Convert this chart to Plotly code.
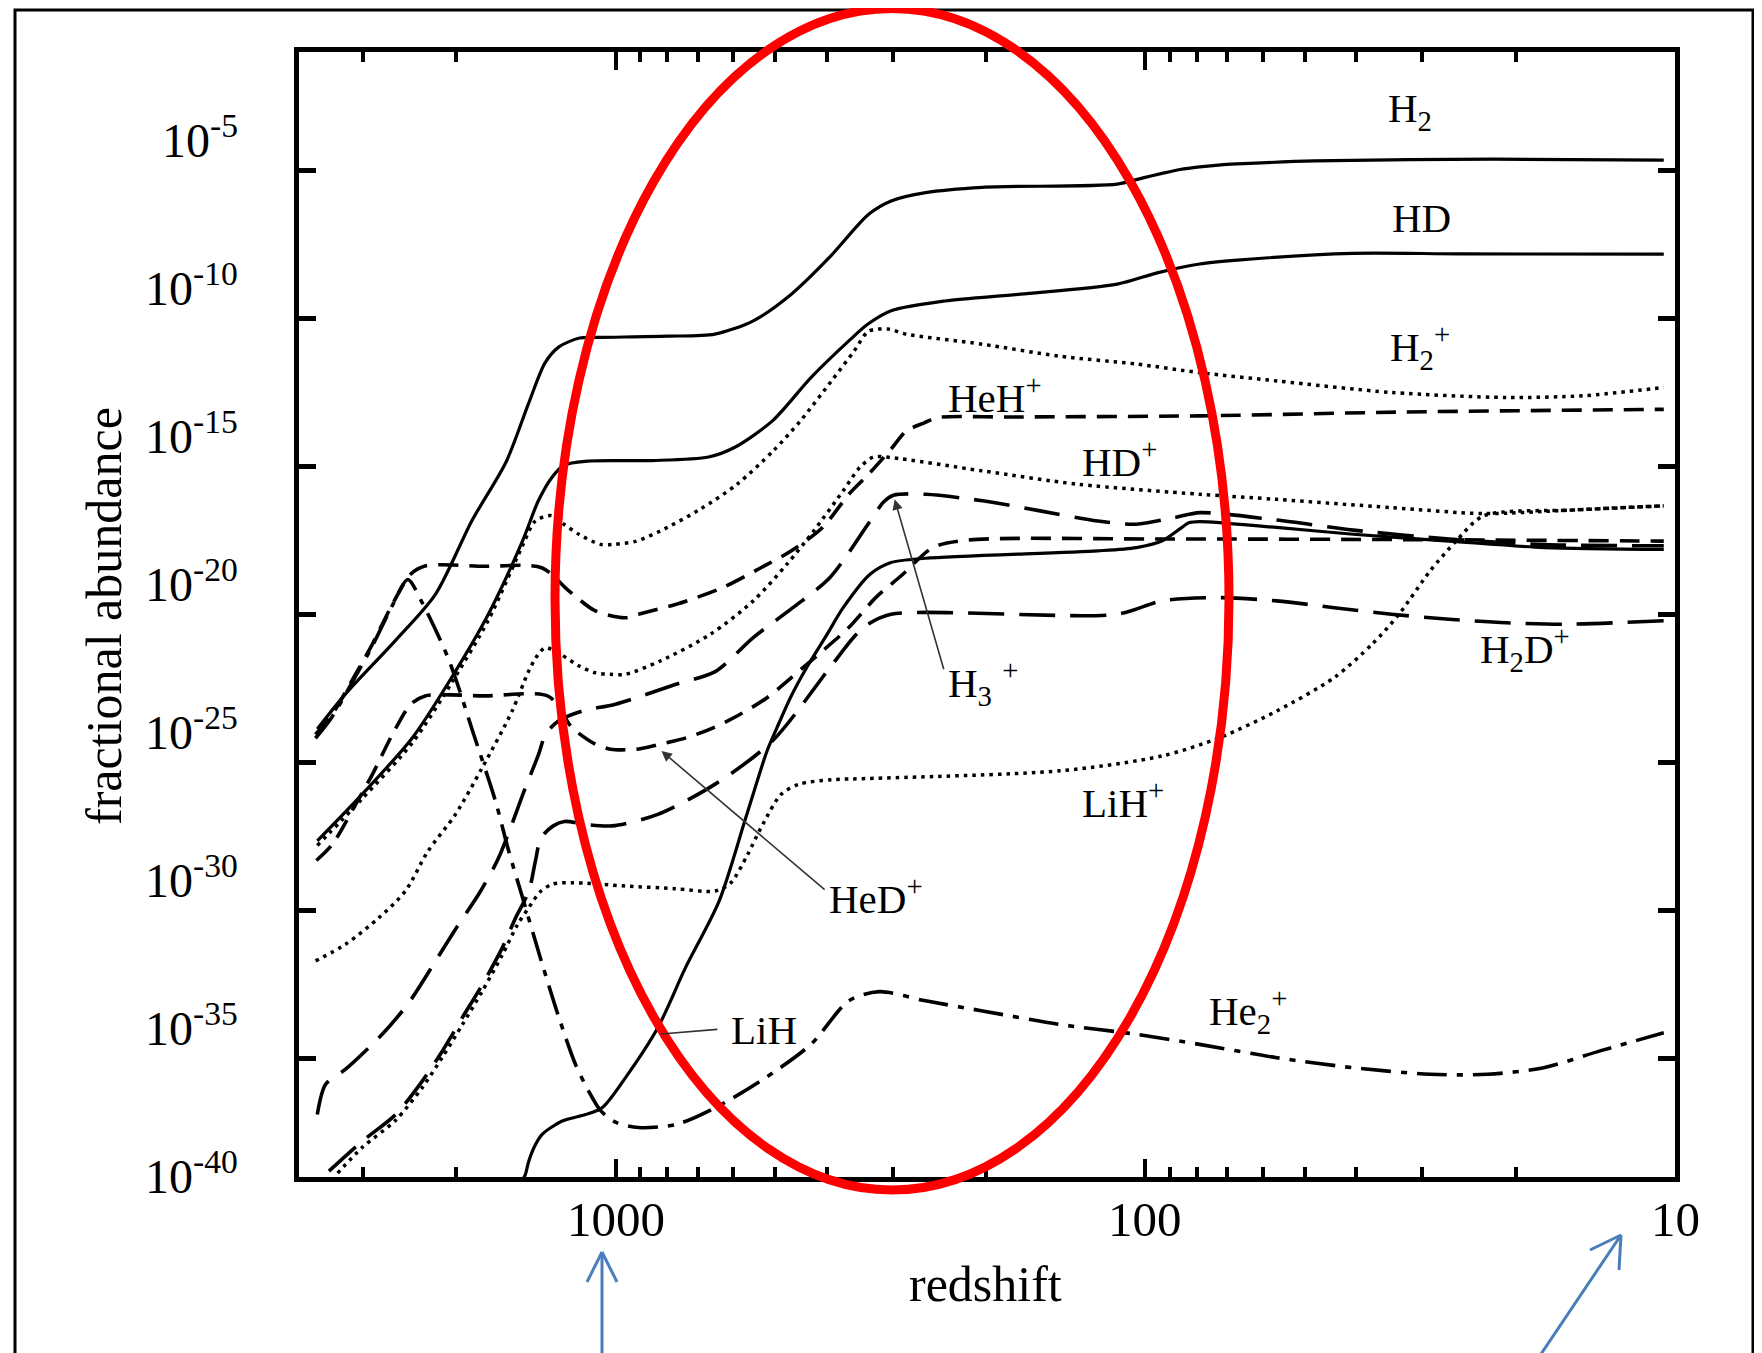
import numpy as np
import plotly.graph_objects as go

# ------------------------------------------------------------------
# Data: redshift z and log10(fractional abundance)
# ------------------------------------------------------------------
H2_Z = [3660, 3240, 2610, 2190, 1870, 1610, 1460, 1360, 1280, 1170, 1070, 800, 650, 550, 466, 395,
        333, 302, 260, 203, 113, 101, 93, 86, 79, 72, 67, 48, 22, 10.5]
H2_LOG = [-24.87, -23.69, -21.89, -20.32, -17.84, -15.84, -13.86, -12.50, -11.96, -11.66, -11.64, -11.60,
          -11.53, -11.08, -10.18, -8.94, -7.48, -7.03, -6.75, -6.57, -6.46, -6.25, -6.10, -5.97, -5.88,
          -5.81, -5.78, -5.68, -5.62, -5.65]

HD_Z = [3660, 3010, 2420, 2040, 1740, 1500, 1400, 1320, 1250, 1130, 853, 668, 597, 506, 428, 363, 334,
        302, 239, 172, 113, 95, 79, 67, 40.6, 25.4, 10.5]
HD_LOG = [-28.65, -27.07, -25.16, -23.12, -20.99, -18.52, -17.16, -16.37, -15.95, -15.82, -15.80, -15.68,
          -15.36, -14.46, -13.00, -11.76, -11.19, -10.74, -10.41, -10.18, -9.84, -9.46, -9.16, -9.03,
          -8.80, -8.82, -8.83]

H2P_Z = [3660, 3010, 2420, 2040, 1740, 1500, 1420, 1324, 1253, 1172, 1069, 1009, 918, 824, 692, 590,
         504, 448, 391, 355, 333, 306, 283, 203, 146, 104, 79, 56.5, 34.3, 20.8, 14.9, 10.5]
H2P_LOG = [-28.80, -27.22, -25.33, -23.30, -21.19, -18.68, -17.85, -17.66, -17.95, -18.30, -18.63, -18.63,
           -18.53, -18.18, -17.44, -16.60, -15.47, -14.46, -13.10, -12.11, -11.43, -11.36, -11.53, -11.87,
           -12.27, -12.54, -12.83, -13.11, -13.50, -13.67, -13.61, -13.33]

HEHP_Z = [3690, 3430, 3100, 2880, 2640, 2440, 2290, 1770, 1380, 1226, 1092, 960, 906, 767, 628, 532,
          466, 407, 363, 333, 302, 283, 261, 247, 179, 79, 32.4, 10.5]
HEHP_LOG = [-25.05, -24.37, -23.02, -22.00, -20.65, -19.64, -19.36, -19.37, -19.42, -20.20, -20.88, -21.11,
            -20.99, -20.65, -20.09, -19.42, -18.85, -18.06, -16.94, -16.26, -15.41, -14.81, -14.52, -14.35,
            -14.33, -14.29, -14.16, -14.07]

HE2P_Z = [3690, 3430, 3100, 2880, 2640, 2470, 2320, 2080, 1977, 1866, 1687, 1592, 1503, 1377, 1281,
          1191, 1125, 1069, 1001, 906, 767, 649, 532, 428, 363, 318, 260, 203, 146, 104, 79, 56.5, 40.5,
          29.0, 22.6, 17.7, 13.85, 10.5]
HE2P_LOG = [-25.18, -24.45, -23.09, -22.06, -20.69, -19.82, -20.60, -22.40, -23.50, -24.90, -27.30, -29.00,
            -30.50, -32.80, -34.60, -36.20, -37.10, -37.75, -38.15, -38.33, -38.22, -37.66, -36.75, -35.52,
            -34.05, -33.74, -34.05, -34.39, -34.84, -35.18, -35.52, -35.97, -36.31, -36.53, -36.53, -36.31,
            -35.74, -35.13]

HEDP_Z = [3675, 3430, 3100, 2880, 2640, 2440, 2290, 1770, 1338, 1209, 1092, 1023, 911, 824, 734, 653,
          582, 518, 466, 407, 363, 323, 287, 252, 218, 93, 32.4, 10.5]
HEDP_LOG = [-29.31, -28.77, -27.42, -26.40, -25.05, -24.04, -23.75, -23.75, -23.77, -24.82, -25.38, -25.55,
            -25.55, -25.38, -25.16, -24.82, -24.37, -23.81, -23.13, -22.23, -21.44, -20.43, -19.64, -18.74,
            -18.49, -18.45, -18.47, -18.52]

H3P_Z = [3660, 3530, 3236, 2760, 2458, 2188, 2007, 1799, 1663, 1481, 1398, 1357, 1281, 1157, 1001, 767,
         649, 550, 463, 394, 334, 312, 299, 260, 203, 158, 123, 104, 88.3, 78.8, 56.5, 40.5, 26.7, 17.7, 10.5]
H3P_LOG = [-37.89, -36.87, -36.36, -35.18, -34.11, -32.70, -31.63, -30.34, -29.21, -26.85, -25.72, -25.05,
           -24.59, -24.26, -24.03, -23.35, -22.93, -21.78, -20.77, -19.75, -17.95, -17.20, -16.97, -16.94,
           -17.16, -17.50, -17.84, -17.95, -17.73, -17.56, -17.81, -18.15, -18.45, -18.64, -18.68]

H2DP_Z = [3479, 3010, 2603, 2319, 2126, 1949, 1786, 1638, 1546, 1459, 1418, 1384, 1312, 1249, 1141, 1016,
          833, 649, 506, 394, 355, 334, 302, 113, 93.1, 72.4, 56.5, 44.0, 34.3, 26.7, 20.8, 16.2, 10.5]
H2DP_LOG = [-39.80, -38.79, -37.89, -36.76, -35.75, -34.62, -33.50, -32.26, -31.25, -30.34, -29.33, -28.55,
            -28.14, -27.99, -28.09, -28.14, -27.75, -26.73, -25.27, -22.79, -21.76, -21.33, -20.99, -20.99,
            -20.54, -20.43, -20.54, -20.77, -20.99, -21.16, -21.28, -21.33, -21.21]

LIHP_Z = [3350, 3010, 2603, 2319, 2126, 1949, 1786, 1638, 1533, 1459, 1391, 1318, 1208, 959, 774, 649,
          607, 564, 532, 487, 450, 391, 334, 145, 93.1, 72.4, 56.5, 44.0, 37.3, 33.2, 29.0, 25.9, 23.0,
          15.6, 10.5]
LIHP_LOG = [-39.87, -39.00, -38.08, -36.98, -35.96, -34.86, -33.72, -32.50, -31.48, -30.90, -30.38, -30.11,
            -30.06, -30.17, -30.26, -30.34, -30.07, -29.12, -28.21, -27.07, -26.73, -26.58, -26.54, -26.28,
            -25.78, -25.16, -24.26, -23.13, -22.00, -20.99, -19.53, -18.52, -17.67, -17.47, -17.33]

HDP_Z = [3687, 3236, 2799, 2495, 2265, 2007, 1786, 1569, 1459, 1404, 1358, 1272, 1172, 1092, 1023, 959,
         824, 663, 550, 475, 423, 372, 346, 326, 302, 203, 134, 78.8, 56.5, 34.3, 23.0, 15.6, 10.5]
HDP_LOG = [-32.70, -32.14, -31.24, -30.34, -29.01, -27.75, -26.17, -24.26, -22.90, -22.37, -22.12, -22.34,
           -22.74, -22.97, -23.02, -23.02, -22.57, -21.67, -20.54, -19.30, -18.18, -16.82, -16.03, -15.68,
           -15.70, -16.15, -16.60, -16.94, -17.11, -17.39, -17.59, -17.47, -17.33]

LIH_Z = [1500, 1481, 1459, 1419, 1377, 1262, 1140, 1061, 959, 833, 738, 638, 568, 518, 496, 468, 436,
         399, 372, 331, 303, 260, 123, 104, 93.1, 86.1, 82.8, 78.9, 56.5, 40.5, 26.7, 17.7, 10.5]
LIH_LOG = [-40.10, -39.91, -39.46, -38.92, -38.56, -38.11, -37.89, -37.66, -36.65, -34.96, -32.92, -30.68,
           -27.86, -25.61, -24.82, -23.81, -22.79, -21.67, -20.77, -19.64, -19.25, -19.10, -18.85, -18.74,
           -18.52, -18.11, -17.90, -17.86, -18.06, -18.29, -18.52, -18.74, -18.80]

X_MAJOR = [1000, 100, 10]
X_MAJOR_TEXT = ["1000", "100", "10"]
X_MINOR = [3000, 2000, 900, 800, 700, 600, 500, 400, 300, 200, 90, 80, 70, 60, 50, 40, 30, 20]
Y_TICK_EXP = [-6, -11, -16, -21, -26, -31, -36]
Y_LABEL_EXP = [-5, -10, -15, -20, -25, -30, -35, -40]

# ------------------------------------------------------------------
# Page geometry (page pixels). The browser body keeps its default 8px
# margin, so the figure itself is placed 8px right / down.
PAGE_W, PAGE_H = 1762, 1353
OFF = 8
W, H = PAGE_W - OFF, PAGE_H - OFF
L, R, T, B = 299, 1675, 52, 1177   # plot area, page pixels


def px(X):
    return (X - L) / (R - L)


def py(Y):
    return (B - Y) / (B - T)


SERIF = "Liberation Serif, Times New Roman, serif"
SOLID = dict(dash="solid", width=3.2)
DOT = dict(dash="3.5px,5px", width=3.5)
SHORT = dict(dash="20px,11px", width=3.6)
LONG = dict(dash="36px,15px", width=3.6)
DASHDOT = dict(dash="30px,10px,6px,10px", width=3.6)

curves = [
    (H2_Z, H2_LOG, SOLID), (HD_Z, HD_LOG, SOLID), (H2P_Z, H2P_LOG, DOT),
    (HEHP_Z, HEHP_LOG, SHORT), (HE2P_Z, HE2P_LOG, DASHDOT), (HEDP_Z, HEDP_LOG, SHORT),
    (H3P_Z, H3P_LOG, LONG), (H2DP_Z, H2DP_LOG, LONG), (LIHP_Z, LIHP_LOG, DOT),
    (HDP_Z, HDP_LOG, DOT), (LIH_Z, LIH_LOG, SOLID),
]

fig = go.Figure()
for z, lg, sty in curves:
    fig.add_trace(go.Scatter(
        x=z, y=10.0 ** np.array(lg), mode="lines",
        line=dict(color="black", width=sty["width"], dash=sty["dash"], shape="spline", smoothing=0.8),
        showlegend=False, hoverinfo="skip"))

fig.update_xaxes(
    type="log", range=[np.log10(3963), 1.0],
    tickmode="array", tickvals=X_MAJOR, showticklabels=False,
    ticks="inside", ticklen=18, tickwidth=4, tickcolor="black",
    showline=True, linewidth=5, linecolor="black", mirror="ticks",
    showgrid=False, zeroline=False,
    minor=dict(tickmode="array", tickvals=X_MINOR, ticks="inside", ticklen=10, tickwidth=4,
               tickcolor="black", showgrid=False),
)
fig.update_yaxes(
    type="log", range=[-40, -2],
    tickmode="array", tickvals=[10.0 ** e for e in Y_TICK_EXP], showticklabels=False,
    ticks="inside", ticklen=17, tickwidth=5, tickcolor="black",
    showline=True, linewidth=5, linecolor="black", mirror="ticks",
    showgrid=False, zeroline=False,
)

ann = []
for e in Y_LABEL_EXP:
    ann.append(dict(x=px(240), xref="paper", y=e, yref="y", text=f"10<sup>{e}</sup>",
                    xanchor="right", yanchor="middle", showarrow=False, yshift=4,
                    font=dict(family=SERIF, size=48, color="black")))
for v, t in zip(X_MAJOR, X_MAJOR_TEXT):
    ann.append(dict(x=np.log10(v), xref="x", y=py(1219), yref="paper", text=t,
                    xanchor="center", yanchor="middle", showarrow=False,
                    font=dict(family=SERIF, size=49, color="black")))

ann.append(dict(x=px(985), y=py(1284), xref="paper", yref="paper", text="redshift", showarrow=False,
                xanchor="center", yanchor="middle", font=dict(family=SERIF, size=50, color="black")))
ann.append(dict(x=px(104), y=py(616), xref="paper", yref="paper", text="fractional abundance",
                textangle=-90, showarrow=False, xanchor="center", yanchor="middle",
                font=dict(family=SERIF, size=50, color="black")))

labels = [
    ("H<sub>2</sub>", 1386, 111), ("HD", 1390, 218), ("H<sub>2</sub><sup>+</sup>", 1388, 347),
    ("HeH<sup>+</sup>", 946, 395), ("HD<sup>+</sup>", 1080, 459), ("H<sub>3</sub> <sup>+</sup>", 946, 683),
    ("H<sub>2</sub>D<sup>+</sup>", 1478, 649), ("LiH<sup>+</sup>", 1080, 800), ("HeD<sup>+</sup>", 827, 896),
    ("LiH", 729, 1030), ("He<sub>2</sub><sup>+</sup>", 1207, 1011),
]
for txt, lx, ly in labels:
    ann.append(dict(x=px(lx), y=py(ly), xref="paper", yref="paper", text=txt, showarrow=False,
                    xanchor="left", yanchor="middle", font=dict(family=SERIF, size=41, color="black")))

# pointer arrows (tip / tail in data coordinates, log10 units)
pointers = [((297.4, -17.11), (239.8, -22.90), 2),
            ((819.6, -25.61), (400.6, -30.34), 2),
            ((821.0, -35.17), (638.7, -35.01), 0)]
for (zt, ft), (zs, fs), head in pointers:
    ann.append(dict(x=np.log10(zt), y=ft, ax=np.log10(zs), ay=fs, xref="x", yref="y",
                    axref="x", ayref="y", text="", showarrow=True, arrowhead=head, arrowsize=1.3,
                    arrowwidth=1.6, arrowcolor="#333333", standoff=0))

shapes = []
# outer frame
shapes.append(dict(type="rect", xref="paper", yref="paper", x0=px(15), x1=px(1753), y0=py(1420), y1=py(10),
                   line=dict(color="black", width=3), layer="below"))
# red ellipse
shapes.append(dict(type="circle", xref="paper", yref="paper", x0=px(555), x1=px(1229), y0=py(1190),
                   y1=py(8.5), line=dict(color="#ff0000", width=9)))
# blue arrows
BLUE = "#4a7ebb"
for (x0, y0, x1, y1) in [(602, 1360, 602, 1252), (602, 1252, 617, 1282), (602, 1252, 587, 1282),
                         (1537, 1360, 1621, 1235), (1621, 1235, 1590, 1250), (1621, 1235, 1619, 1270)]:
    shapes.append(dict(type="line", xref="paper", yref="paper", x0=px(x0), y0=py(y0), x1=px(x1), y1=py(y1),
                       line=dict(color=BLUE, width=3)))

fig.update_layout(width=W, height=H,
                  margin=dict(l=L - OFF, r=PAGE_W - R, t=T - OFF, b=PAGE_H - B),
                  plot_bgcolor="white", paper_bgcolor="white", showlegend=False,
                  annotations=ann, shapes=shapes)

fig.write_html("out.html")
